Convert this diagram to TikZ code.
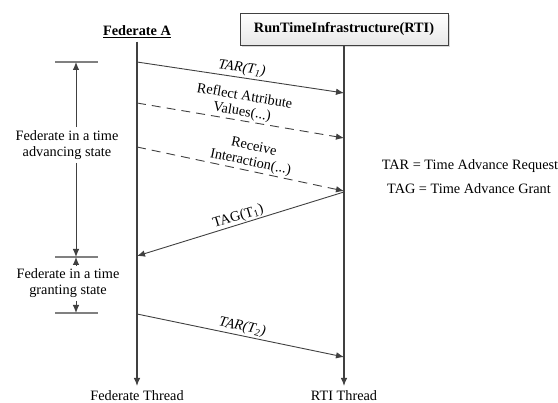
\documentclass[tikz,border=0pt]{standalone}
\usepackage{fontspec}
\setmainfont{Liberation Serif}
\usetikzlibrary{positioning,arrows.meta,shadows}
\definecolor{linegray}{RGB}{64,64,64}
\definecolor{tickgray}{RGB}{128,128,128}

\begin{document}
\begin{tikzpicture}[
    x=1pt,y=-1pt,
    every node/.style={font=\fontsize{14.3}{15.5}\selectfont},
    arr/.style={-{Latex[length=8pt,width=6.5pt]},draw=linegray,line width=0.9pt},
    life/.style={arr,line width=1.1pt},
    msgdash/.style={arr,dash pattern=on 9pt off 6pt},
    tick/.style={draw=tickgray,line width=1.2pt},
    rtibox/.style={draw=linegray,line width=0.9pt,top color=white,bottom color=gray!18,drop shadow={opacity=0.3,shadow xshift=2pt,shadow yshift=-2pt},minimum width=208pt,minimum height=32pt,font=\fontsize{14.3}{15.5}\selectfont\bfseries},
    lbl/.style={sloped,above,inner sep=1.5pt},
]
\useasboundingbox (0,0) rectangle (558,403);

% lifelines
\node[font=\fontsize{14.3}{15.5}\selectfont\bfseries] (fedA) at (137,32) {\underline{Federate A}};
\node[rtibox] (rti) at (344,29) {RunTimeInfrastructure(RTI)};
\node (fedT) at (137,396) {Federate Thread};
\node (rtiT) at (344,396) {RTI Thread};
\coordinate (fedEnd) at (137,386);
\coordinate (rtiEnd) at (344,386);
\draw[life] (fedA.south) -- (fedEnd);
\draw[life] (rti.south) -- (rtiEnd);

% messages
\coordinate (f1) at (137,62);  \coordinate (r1) at (344,93);
\coordinate (f2) at (137,103); \coordinate (r2) at (344,138);
\coordinate (f3) at (137,147); \coordinate (r3) at (344,191);
\coordinate (r4) at (344,192); \coordinate (f4) at (137,256);
\coordinate (f5) at (137,314); \coordinate (r5) at (344,357);
\draw[arr] (f1) -- node[lbl,inner sep=2pt] {\textit{TAR(T\textsubscript{1})}} (r1);
\draw[msgdash] (f2) -- node[lbl,align=center] {Reflect Attribute\\Values(...)} (r2);
\draw[msgdash] (f3) -- node[lbl,align=center,pos=0.54] {Receive\\Interaction(...)} (r3);
\draw[arr] (r4) -- node[lbl,inner sep=0.5pt] {TAG(T\textsubscript{1})} (f4);
\draw[arr] (f5) -- node[lbl] {\textit{TAR(T\textsubscript{2})}} (r5);

% federate states
\coordinate (m1) at (76,62);
\coordinate (m2) at (76,257);
\coordinate (m3) at (76,313);
\draw[tick] ([xshift=-21pt]m1) -- ([xshift=22pt]m1);
\draw[tick] ([xshift=-21pt]m2) -- ([xshift=22pt]m2);
\draw[tick] ([xshift=-21pt]m3) -- ([xshift=22pt]m3);
\node[align=center] (adv) at (67,145) {Federate in a time\\advancing state};
\node[align=center] (grant) at (68,283) {Federate in a time\\granting state};
\draw[arr] (adv.north -| m1) -- (m1);
\draw[arr] (adv.south -| m1) -- (m2);
\draw[arr] (grant.north -| m1) -- (m2);
\draw[arr] (grant.south -| m1) -- (m3);

% legend
\node (tarKey) at (470,166) {TAR = Time Advance Request};
\node (tagKey) at (469,189) {TAG = Time Advance Grant};
\end{tikzpicture}
\end{document}
